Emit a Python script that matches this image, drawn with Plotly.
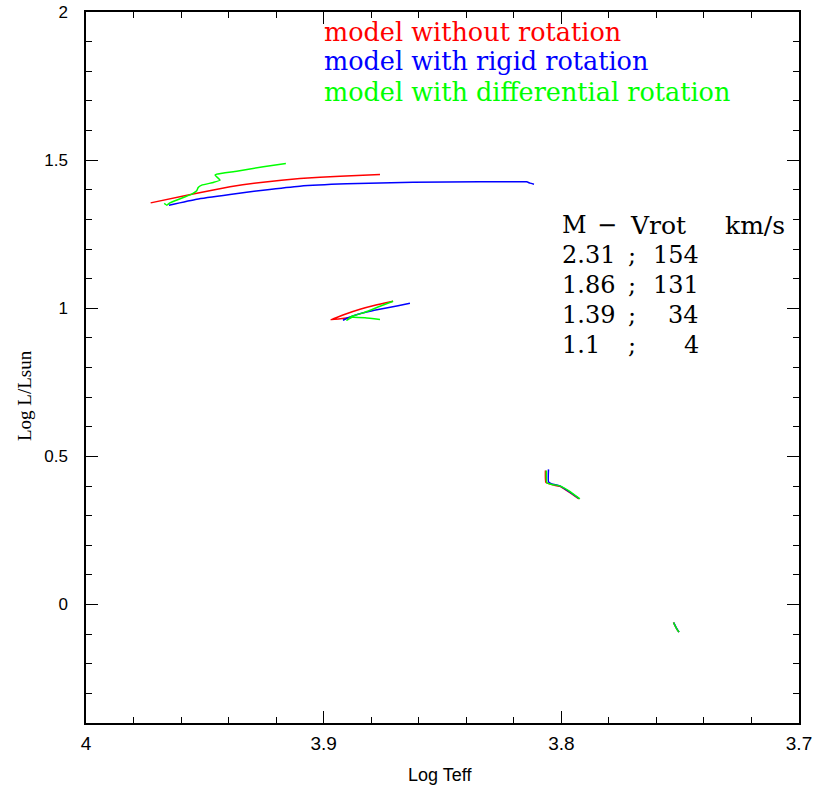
import plotly.graph_objects as go

# ---- data (log Teff, log L/Lsun) ----
# 2.31 Msun track
t1_red_x = [3.9728, 3.9555, 3.9394, 3.9255, 3.9100, 3.8931, 3.8763]
t1_red_y = [1.3557, 1.3851, 1.4098, 1.4257, 1.4382, 1.4459, 1.4517]
t1_blue_x = [3.9651, 3.9534, 3.9394, 3.9255, 3.9100, 3.8903, 3.8624, 3.8342, 3.8146, 3.8132, 3.8115]
t1_blue_y = [1.3480, 1.3682, 1.3841, 1.3986, 1.4122, 1.4199, 1.4257, 1.4267, 1.4267, 1.4223, 1.4189]
t1_green_x = [3.9671, 3.9660, 3.9647, 3.9555, 3.9534, 3.9528, 3.9513, 3.9464, 3.9436, 3.9457, 3.9450, 3.9366, 3.9254, 3.9159]
t1_green_y = [1.3537, 1.3480, 1.3557, 1.3851, 1.3963, 1.4078, 1.4155, 1.4247, 1.4324, 1.4493, 1.4527, 1.4628, 1.4774, 1.4889]

# 1.86 Msun track
t2_red_x = [3.8885, 3.8969, 3.8910, 3.8847, 3.8784, 3.8708]
t2_red_y = [0.9696, 0.9611, 0.9797, 0.9966, 1.0101, 1.0236]
t2_blue_x = [3.8919, 3.8902, 3.8868, 3.8805, 3.8742, 3.8687, 3.8637]
t2_blue_y = [0.9595, 0.9662, 0.9764, 0.9899, 1.0000, 1.0084, 1.0169]
t2_green_x = [3.8763, 3.8826, 3.8881, 3.8902, 3.8881, 3.8826, 3.8763, 3.8708]
t2_green_y = [0.9618, 0.9679, 0.9696, 0.9595, 0.9730, 0.9865, 1.0068, 1.0236]

# 1.39 Msun track
t3_red_x = [3.8067, 3.8065, 3.8044, 3.8006, 3.7972, 3.7926]
t3_red_y = [0.4527, 0.4122, 0.4054, 0.3986, 0.3818, 0.3564]
t3_blue_x = [3.8054, 3.8054, 3.8040, 3.8006, 3.7972, 3.7926]
t3_blue_y = [0.4561, 0.4139, 0.4071, 0.4003, 0.3834, 0.3581]
t3_green_x = [3.8063, 3.8061, 3.8040, 3.8006, 3.7968, 3.7922]
t3_green_y = [0.4527, 0.4105, 0.4054, 0.4003, 0.3834, 0.3564]

# 1.1 Msun track
t4_red_x = [3.7528, 3.7522, 3.7514, 3.7505]
t4_red_y = [-0.0608, -0.0709, -0.0828, -0.0929]
t4_blue_x = [3.7527, 3.7521, 3.7513, 3.7505]
t4_blue_y = [-0.0610, -0.0712, -0.0830, -0.0930]
t4_green_x = [3.7528, 3.7522, 3.7514, 3.7505]
t4_green_y = [-0.0608, -0.0709, -0.0828, -0.0929]

legend_labels = ["model without rotation", "model with rigid rotation", "model with differential rotation"]
masses = ["2.31", "1.86", "1.39", "1.1"]
vrots = ["154", "131", "34", "4"]

RED, BLUE, GREEN = "#ff0000", "#0000ff", "#00ff00"

fig = go.Figure()
tracks = [
    (t1_red_x, t1_red_y, t1_blue_x, t1_blue_y, t1_green_x, t1_green_y),
    (t2_red_x, t2_red_y, t2_blue_x, t2_blue_y, t2_green_x, t2_green_y),
    (t3_red_x, t3_red_y, t3_blue_x, t3_blue_y, t3_green_x, t3_green_y),
    (t4_red_x, t4_red_y, t4_blue_x, t4_blue_y, t4_green_x, t4_green_y),
]
for rx, ry, bx, by, gx, gy in tracks:
    for xs, ys, c in ((rx, ry, RED), (bx, by, BLUE), (gx, gy, GREEN)):
        fig.add_trace(go.Scatter(x=xs, y=ys, mode="lines",
                                 line=dict(color=c, width=1.5, shape="spline", smoothing=0.4),
                                 showlegend=False, hoverinfo="skip"))

serif = "DejaVu Serif"
# legend-like texts
leg_y = [1.932, 1.833, 1.730]
for lab, c, yy in zip(legend_labels, (RED, BLUE, GREEN), leg_y):
    fig.add_annotation(x=3.9004, y=yy, xref="x", yref="y", text=lab,
                       showarrow=False, xanchor="left", yanchor="middle", borderpad=0,
                       font=dict(family=serif, size=25.5, color=c))

# table text
tf = dict(family=serif, size=24, color="black")
hf = dict(family=serif, size=25, color="black")
row_y = [1.1791, 1.0777, 0.9764, 0.875]
fig.add_annotation(x=3.8002, y=1.2804, text="M", showarrow=False, xanchor="left", font=tf, borderpad=0)
fig.add_annotation(x=3.7808, y=1.2804, text="\u2212", showarrow=False, xanchor="center", font=tf, borderpad=0)
fig.add_annotation(x=3.7716, y=1.2804, text="Vrot", showarrow=False, xanchor="left", font=hf, borderpad=0)
fig.add_annotation(x=3.7055, y=1.2804, text="km/s", showarrow=False, xanchor="right", font=hf, borderpad=0)
for m, v, yy in zip(masses, vrots, row_y):
    fig.add_annotation(x=3.8002, y=yy, text=m, showarrow=False, xanchor="left", font=tf, borderpad=0)
    fig.add_annotation(x=3.7703, y=yy, text=";", showarrow=False, xanchor="center", font=tf, borderpad=0)
    fig.add_annotation(x=3.7417, y=yy, text=v, showarrow=False, xanchor="right", font=tf, borderpad=0)

# axis titles as annotations (paper coords)
fig.add_annotation(x=0.4965, y=-0.0731, xref="paper", yref="paper", text="Log Teff",
                   showarrow=False, xanchor="center", yanchor="middle",
                   font=dict(family="Liberation Sans", size=18, color="black"))
fig.add_annotation(x=-0.087, y=0.4613, xref="paper", yref="paper", text="Log L/Lsun",
                   showarrow=False, xanchor="center", yanchor="middle", textangle=-90,
                   font=dict(family="Liberation Serif", size=19, color="black"))

axis_common = dict(showline=True, linecolor="black", linewidth=1.5, mirror="allticks",
                   ticks="inside", ticklen=12, tickwidth=1, tickcolor="black",
                   showgrid=False, zeroline=False, automargin=False)

fig.update_xaxes(range=[4, 3.7], tickvals=[4, 3.9, 3.8, 3.7], ticktext=["4", "3.9", "3.8", "3.7"],
                 minor=dict(ticks="inside", ticklen=6, dtick=0.02, tick0=4, tickcolor="black", showgrid=False),
                 tickfont=dict(family="Liberation Sans", size=19, color="black"),
                 ticklabelstandoff=2,
                 **axis_common)
fig.update_yaxes(range=[-0.4, 2], tickvals=[0, 0.5, 1, 1.5, 2], ticktext=["0", "0.5", "1", "1.5", "2"],
                 minor=dict(ticks="inside", ticklen=6, dtick=0.1, tick0=0, tickcolor="black", showgrid=False),
                 tickfont=dict(family="Liberation Sans", size=17, color="black"),
                 ticklabelstandoff=13,
                 **axis_common)

fig.update_layout(width=813, height=791, margin=dict(l=86, r=14, t=12, b=68),
                  plot_bgcolor="white", paper_bgcolor="white", showlegend=False)

fig.write_html("out.html")
